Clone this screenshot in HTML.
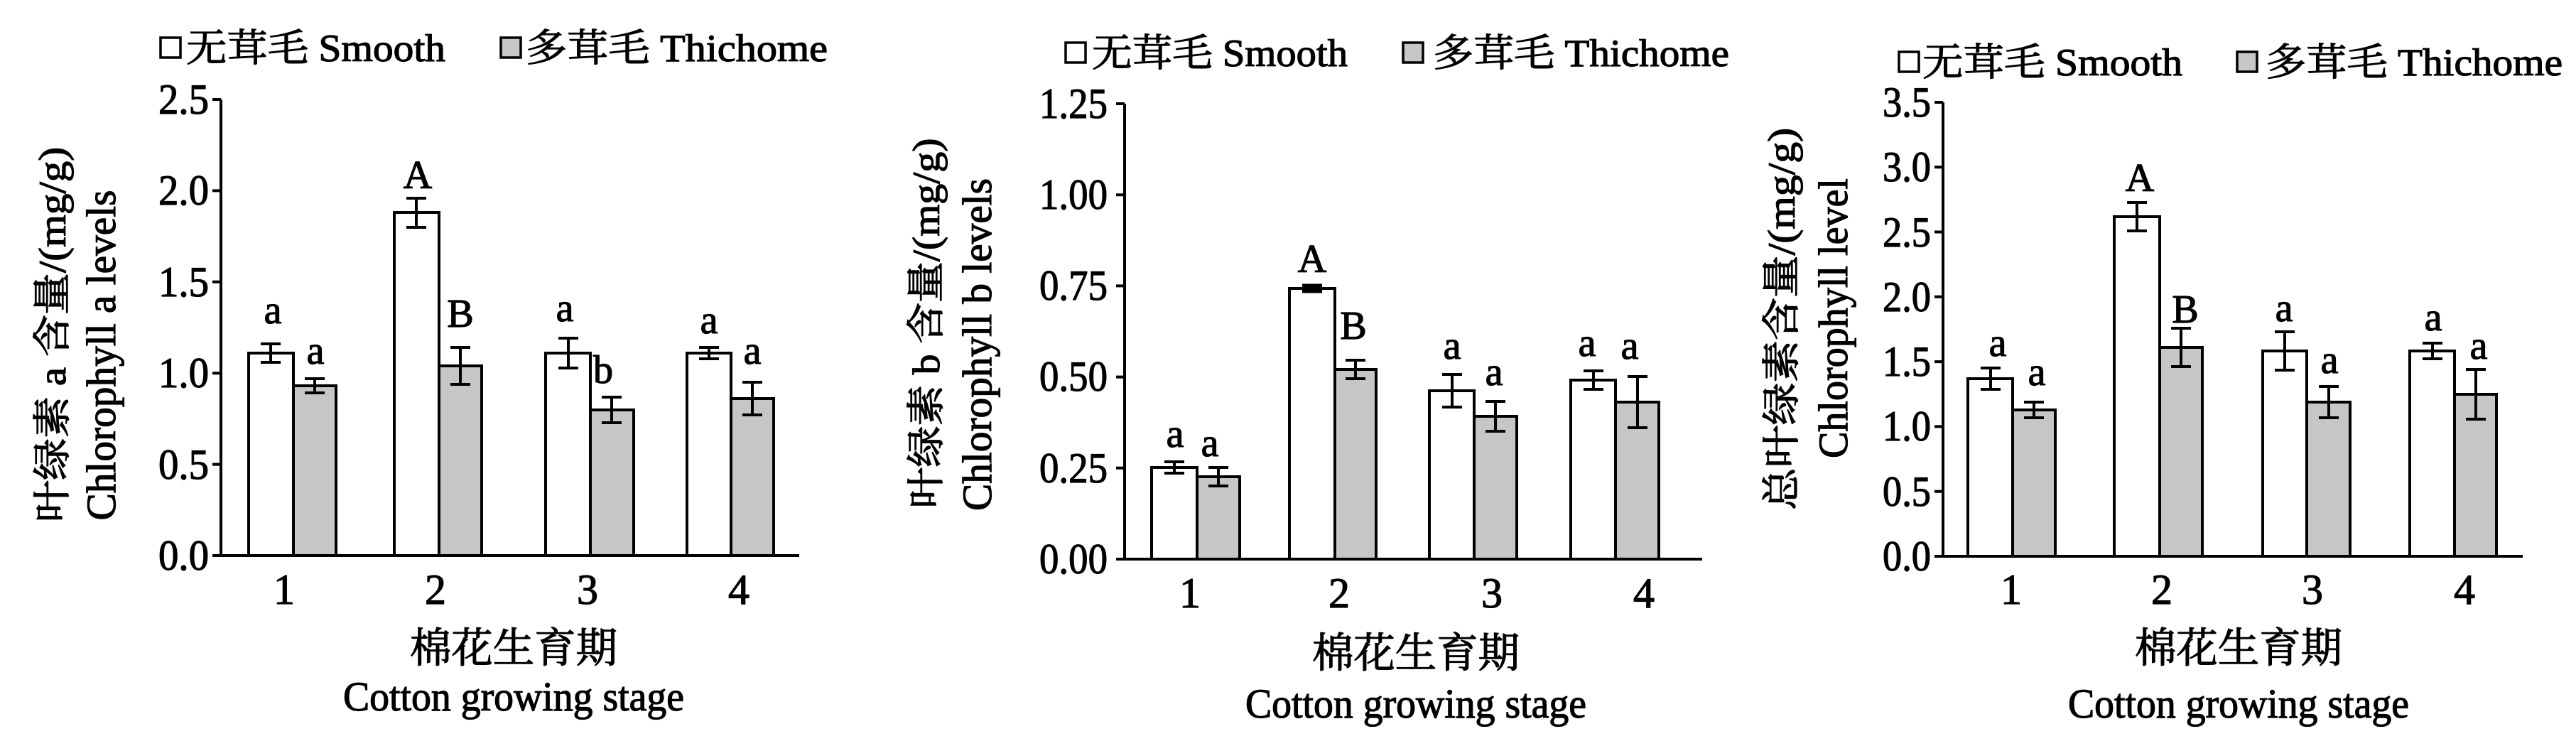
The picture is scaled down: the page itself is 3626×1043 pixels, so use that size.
<!DOCTYPE html>
<html><head><meta charset="utf-8"><style>
html,body{margin:0;padding:0;background:#fff;}
svg{display:block;}
text{font-family:"Liberation Serif","Noto Serif CJK SC","Noto Sans CJK SC",serif;fill:#000;stroke:#000;stroke-width:1.2px;}
.t{font-size:60px;}
.l{font-size:56px;}
</style></head><body>
<svg width="3626" height="1043" viewBox="0 0 3626 1043" xmlns="http://www.w3.org/2000/svg">
<g stroke="#000" stroke-width="4" fill="none">
<path d="M311 140 V782 H1125"/>
<path d="M299 782H311M299 653.6H311M299 525.2H311M299 396.8H311M299 268.4H311M299 140H311"/>
<path d="M1583 146 V787 H2396"/>
<path d="M1571 787H1583M1571 658.8H1583M1571 530.6H1583M1571 402.4H1583M1571 274.2H1583M1571 146H1583"/>
<path d="M2735 144 V783 H3551"/>
<path d="M2723 783H2735M2723 691.7H2735M2723 600.4H2735M2723 509.1H2735M2723 417.8H2735M2723 326.5H2735M2723 235.2H2735M2723 144H2735"/>
</g>
<g stroke="#000" stroke-width="4">
<rect x="350" y="497" width="63" height="285" fill="#fff"/>
<rect x="413" y="543" width="60" height="239" fill="#c6c6c6"/>
<rect x="555" y="299" width="63" height="483" fill="#fff"/>
<rect x="618" y="515" width="60" height="267" fill="#c6c6c6"/>
<rect x="768" y="497" width="63" height="285" fill="#fff"/>
<rect x="831" y="577" width="61" height="205" fill="#c6c6c6"/>
<rect x="967" y="497" width="62" height="285" fill="#fff"/>
<rect x="1029" y="561" width="60" height="221" fill="#c6c6c6"/>

<rect x="1621" y="658" width="64" height="129" fill="#fff"/>
<rect x="1685" y="671" width="60" height="116" fill="#c6c6c6"/>
<rect x="1815" y="406" width="64" height="381" fill="#fff"/>
<rect x="1879" y="520" width="58" height="267" fill="#c6c6c6"/>
<rect x="2012" y="550" width="63" height="237" fill="#fff"/>
<rect x="2075" y="586" width="60" height="201" fill="#c6c6c6"/>
<rect x="2211" y="535" width="63" height="252" fill="#fff"/>
<rect x="2274" y="566" width="61" height="221" fill="#c6c6c6"/>

<rect x="2770" y="533" width="63" height="250" fill="#fff"/>
<rect x="2833" y="577" width="60" height="206" fill="#c6c6c6"/>
<rect x="2976" y="305" width="64" height="478" fill="#fff"/>
<rect x="3040" y="489" width="60" height="294" fill="#c6c6c6"/>
<rect x="3185" y="494" width="62" height="289" fill="#fff"/>
<rect x="3247" y="566" width="61" height="217" fill="#c6c6c6"/>
<rect x="3392" y="494" width="63" height="289" fill="#fff"/>
<rect x="3455" y="555" width="59" height="228" fill="#c6c6c6"/>
</g>
<g stroke="#000" stroke-width="4" fill="none">
<path d="M381 484V510M367 484H395M367 510H395"/>
<path d="M443 533V553M429 533H457M429 553H457"/>
<path d="M586 279V320M572 279H600M572 320H600"/>
<path d="M648 489V541M634 489H662M634 541H662"/>
<path d="M800 476V518M786 476H814M786 518H814"/>
<path d="M861 559V595M847 559H875M847 595H875"/>
<path d="M998 489V505M984 489H1012M984 505H1012"/>
<path d="M1059 538V584M1045 538H1073M1045 584H1073"/>

<path d="M1653 650V666M1639 650H1667M1639 666H1667"/>
<path d="M1715 658V684M1701 658H1729M1701 684H1729"/>
<path d="M1847 403V409M1833 403H1861M1833 409H1861" stroke-width="7"/>
<path d="M1908 507V533M1894 507H1922M1894 533H1922"/>
<path d="M2044 527V573M2030 527H2058M2030 573H2058"/>
<path d="M2105 565V607M2091 565H2119M2091 607H2119"/>
<path d="M2243 522V548M2229 522H2257M2229 548H2257"/>
<path d="M2305 530V602M2291 530H2319M2291 602H2319"/>

<path d="M2802 518V548M2788 518H2816M2788 548H2816"/>
<path d="M2863 566V588M2849 566H2877M2849 588H2877"/>
<path d="M3008 285V325M2994 285H3022M2994 325H3022"/>
<path d="M3070 462V516M3056 462H3084M3056 516H3084"/>
<path d="M3216 467V521M3202 467H3230M3202 521H3230"/>
<path d="M3278 544V588M3264 544H3292M3264 588H3292"/>
<path d="M3424 483V505M3410 483H3438M3410 505H3438"/>
<path d="M3485 520V590M3471 520H3499M3471 590H3499"/>
</g>
<g class="t" text-anchor="end">
<text x="294" y="802" textLength="71" lengthAdjust="spacingAndGlyphs">0.0</text>
<text x="294" y="674" textLength="71" lengthAdjust="spacingAndGlyphs">0.5</text>
<text x="294" y="545" textLength="71" lengthAdjust="spacingAndGlyphs">1.0</text>
<text x="294" y="417" textLength="71" lengthAdjust="spacingAndGlyphs">1.5</text>
<text x="294" y="288" textLength="71" lengthAdjust="spacingAndGlyphs">2.0</text>
<text x="294" y="160" textLength="71" lengthAdjust="spacingAndGlyphs">2.5</text>
<text x="1559" y="807" textLength="96" lengthAdjust="spacingAndGlyphs">0.00</text>
<text x="1559" y="679" textLength="96" lengthAdjust="spacingAndGlyphs">0.25</text>
<text x="1559" y="550" textLength="96" lengthAdjust="spacingAndGlyphs">0.50</text>
<text x="1559" y="422" textLength="96" lengthAdjust="spacingAndGlyphs">0.75</text>
<text x="1559" y="294" textLength="96" lengthAdjust="spacingAndGlyphs">1.00</text>
<text x="1559" y="166" textLength="96" lengthAdjust="spacingAndGlyphs">1.25</text>
<text x="2718" y="803" textLength="68" lengthAdjust="spacingAndGlyphs">0.0</text>
<text x="2718" y="712" textLength="68" lengthAdjust="spacingAndGlyphs">0.5</text>
<text x="2718" y="620" textLength="68" lengthAdjust="spacingAndGlyphs">1.0</text>
<text x="2718" y="529" textLength="68" lengthAdjust="spacingAndGlyphs">1.5</text>
<text x="2718" y="438" textLength="68" lengthAdjust="spacingAndGlyphs">2.0</text>
<text x="2718" y="347" textLength="68" lengthAdjust="spacingAndGlyphs">2.5</text>
<text x="2718" y="255" textLength="68" lengthAdjust="spacingAndGlyphs">3.0</text>
<text x="2718" y="164" textLength="68" lengthAdjust="spacingAndGlyphs">3.5</text>
</g>
<g class="t" text-anchor="middle">
<text x="400" y="850">1</text><text x="613" y="850">2</text><text x="827" y="850">3</text><text x="1040" y="850">4</text>
<text x="1675" y="855">1</text><text x="1885" y="855">2</text><text x="2100" y="855">3</text><text x="2314" y="855">4</text>
<text x="2831" y="850">1</text><text x="3043" y="850">2</text><text x="3255" y="850">3</text><text x="3469" y="850">4</text>
</g>
<g class="l" text-anchor="middle">
<text x="384" y="455">a</text><text x="444" y="512">a</text><text x="588" y="265">A</text><text x="648" y="460">B</text>
<text x="795" y="452">a</text><text x="849" y="539">b</text><text x="998" y="469">a</text><text x="1059" y="512">a</text>
<text x="1654" y="629">a</text><text x="1703" y="642">a</text><text x="1847" y="383">A</text><text x="1905" y="477">B</text>
<text x="2044" y="505">a</text><text x="2103" y="542">a</text><text x="2234" y="501">a</text><text x="2294" y="505">a</text>
<text x="2812" y="501">a</text><text x="2867" y="542">a</text><text x="3012" y="269">A</text><text x="3076" y="454">B</text>
<text x="3215" y="452">a</text><text x="3279" y="525">a</text><text x="3425" y="465">a</text><text x="3489" y="505">a</text>
</g>
<g text-anchor="middle">
<text x="723" y="932" font-size="58" textLength="292" lengthAdjust="spacingAndGlyphs">棉花生育期</text>
<text x="723" y="1000" font-size="58" textLength="480" lengthAdjust="spacingAndGlyphs">Cotton growing stage</text>
<text x="1993" y="939" font-size="58" textLength="292" lengthAdjust="spacingAndGlyphs">棉花生育期</text>
<text x="1993" y="1010" font-size="58" textLength="480" lengthAdjust="spacingAndGlyphs">Cotton growing stage</text>
<text x="3151" y="932" font-size="58" textLength="292" lengthAdjust="spacingAndGlyphs">棉花生育期</text>
<text x="3151" y="1010" font-size="58" textLength="480" lengthAdjust="spacingAndGlyphs">Cotton growing stage</text>
</g>
<g text-anchor="middle">
<text transform="translate(92,471) rotate(-90)" font-size="54" textLength="528" lengthAdjust="spacingAndGlyphs">叶绿素 a 含量/(mg/g)</text>
<text transform="translate(162,500) rotate(-90)" font-size="58" textLength="465" lengthAdjust="spacingAndGlyphs">Chlorophyll a levels</text>
<text transform="translate(1322,455) rotate(-90)" font-size="54" textLength="521" lengthAdjust="spacingAndGlyphs">叶绿素 b 含量/(mg/g)</text>
<text transform="translate(1395,485) rotate(-90)" font-size="58" textLength="468" lengthAdjust="spacingAndGlyphs">Chlorophyll b levels</text>
<text transform="translate(2526,449) rotate(-90)" font-size="54" textLength="538" lengthAdjust="spacingAndGlyphs">总叶绿素含量/(mg/g)</text>
<text transform="translate(2600,448) rotate(-90)" font-size="58" textLength="394" lengthAdjust="spacingAndGlyphs">Chlorophyll level</text>
</g>
<g stroke="#000" stroke-width="3.5">
<rect x="226" y="53" width="28" height="28" fill="#fff"/>
<rect x="705" y="53" width="28" height="28" fill="#c6c6c6"/>
<rect x="1500" y="60" width="28" height="28" fill="#fff"/>
<rect x="1975" y="60" width="28" height="28" fill="#c6c6c6"/>
<rect x="2673" y="73" width="28" height="28" fill="#fff"/>
<rect x="3149" y="73" width="28" height="28" fill="#c6c6c6"/>
</g>
<g font-size="54">
<text x="262" y="86" textLength="365" lengthAdjust="spacingAndGlyphs">无茸毛 Smooth</text>
<text x="740" y="86" textLength="425" lengthAdjust="spacingAndGlyphs">多茸毛 Thichome</text>
<text x="1537" y="93" textLength="360" lengthAdjust="spacingAndGlyphs">无茸毛 Smooth</text>
<text x="2017" y="93" textLength="417" lengthAdjust="spacingAndGlyphs">多茸毛 Thichome</text>
<text x="2706" y="106" textLength="366" lengthAdjust="spacingAndGlyphs">无茸毛 Smooth</text>
<text x="3189" y="106" textLength="418" lengthAdjust="spacingAndGlyphs">多茸毛 Thichome</text>
</g>
</svg>
</body></html>
